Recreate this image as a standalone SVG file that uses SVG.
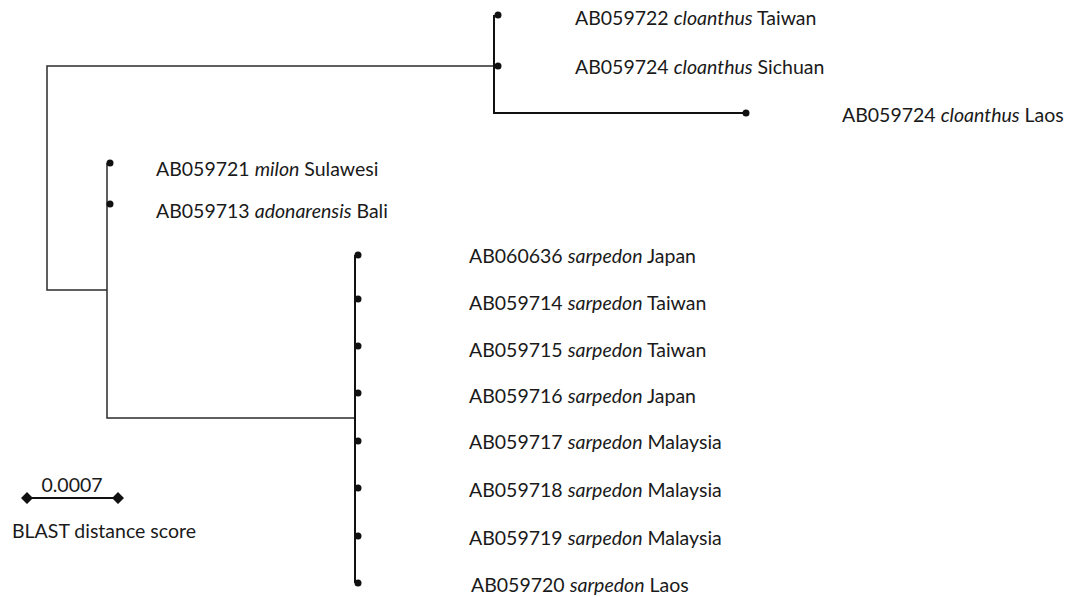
<svg xmlns="http://www.w3.org/2000/svg" width="1072" height="597" viewBox="0 0 1072 597">
<style>
.br{fill:none;stroke:#2b2b2b;stroke-width:1.5}
.tb{fill:none;stroke:#111;stroke-width:2}
.dot{fill:#111}
text{font-family:Lato,"Liberation Sans",sans-serif;font-size:19.5px;fill:#1a1a1a}
.i{font-style:italic}
</style>
<rect width="1072" height="597" fill="#fff"/>
<g id="connectors">
<path class="br" d="M494,66 H47 V290 H107"/>
<path class="br" d="M107,163 V418 H355"/>
<path class="tb" d="M494,15 V113 H746"/>
<path class="tb" d="M355,255 V583"/>
<path class="tb" d="M107,163 H110 M107,204 H110"/>
</g>
<g id="cloanthus">
<circle class="dot" cx="498" cy="15" r="3.5"/>
<circle class="dot" cx="498" cy="66" r="3.5"/>
<circle class="dot" cx="746" cy="113" r="3.5"/>
<text x="575" y="25">AB059722 <tspan class="i">cloanthus</tspan> Taiwan</text>
<text x="575" y="74">AB059724 <tspan class="i">cloanthus</tspan> Sichuan</text>
<text x="842" y="122">AB059724 <tspan class="i">cloanthus</tspan> Laos</text>
</g>
<g id="milon">
<circle class="dot" cx="110" cy="163" r="3.5"/>
<circle class="dot" cx="110" cy="204" r="3.5"/>
<text x="156" y="176">AB059721 <tspan class="i">milon</tspan> Sulawesi</text>
<text x="156" y="218">AB059713 <tspan class="i">adonarensis</tspan> Bali</text>
</g>
<g id="sarpedon">
<circle class="dot" cx="358" cy="255" r="3.5"/>
<circle class="dot" cx="358" cy="299" r="3.5"/>
<circle class="dot" cx="358" cy="346" r="3.5"/>
<circle class="dot" cx="358" cy="393" r="3.5"/>
<circle class="dot" cx="358" cy="441" r="3.5"/>
<circle class="dot" cx="358" cy="488" r="3.5"/>
<circle class="dot" cx="358" cy="536" r="3.5"/>
<circle class="dot" cx="358" cy="583" r="3.5"/>
<text x="469" y="263">AB060636 <tspan class="i">sarpedon</tspan> Japan</text>
<text x="469" y="310">AB059714 <tspan class="i">sarpedon</tspan> Taiwan</text>
<text x="469" y="357">AB059715 <tspan class="i">sarpedon</tspan> Taiwan</text>
<text x="469" y="403">AB059716 <tspan class="i">sarpedon</tspan> Japan</text>
<text x="469" y="449">AB059717 <tspan class="i">sarpedon</tspan> Malaysia</text>
<text x="469" y="497">AB059718 <tspan class="i">sarpedon</tspan> Malaysia</text>
<text x="469" y="545">AB059719 <tspan class="i">sarpedon</tspan> Malaysia</text>
<text x="471" y="592">AB059720 <tspan class="i">sarpedon</tspan> Laos</text>
</g>
<g id="scale">
<path class="tb" d="M27,498 H118"/>
<path class="dot" d="M21,498 L27,492 L33,498 L27,504 Z M112,498 L118,492 L124,498 L118,504 Z"/>
<text x="72" y="492" text-anchor="middle">0.0007</text>
<text x="12" y="538">BLAST distance score</text>
</g>
</svg>
